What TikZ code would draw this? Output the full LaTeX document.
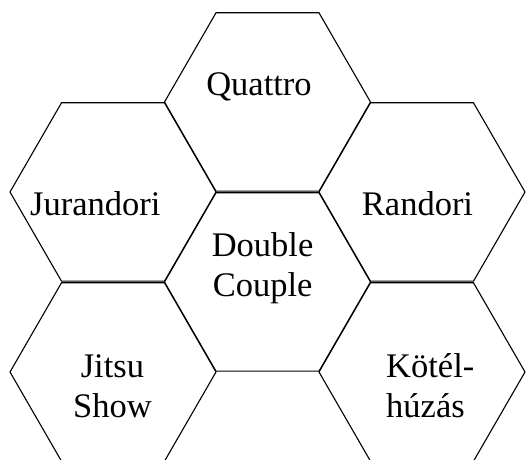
\documentclass[tikz,border=0pt]{standalone}
\usepackage{fontspec}
\setmainfont{Liberation Serif}
\usetikzlibrary{shapes.geometric}
\begin{document}
\begin{tikzpicture}[x=1pt,y=-1pt,
  hexcell/.style={draw=black, line width=1.1pt, regular polygon, regular polygon sides=6,
    minimum size=206pt, inner sep=0pt, outer sep=0pt},
  celltext/.style={font=\fontsize{34.5}{39.5}\selectfont, anchor=base, inner sep=0pt}]
\useasboundingbox (0,0) rectangle (531,462);
\begin{scope}
\clip (-5,-5) rectangle (536,459.6);
\node[hexcell] (hq) at (267.5,102) {};
\node[hexcell] (hc) at (267.5,282) {};
\node[hexcell] (hul) at (113,192) {};
\node[hexcell] (hll) at (113,372) {};
\node[hexcell] (hur) at (422,192) {};
\node[hexcell] (hlr) at (422,372) {};
\end{scope}
\node[celltext] (tq) at (259,96) {Quattro};
\node[celltext] (tul) at (95.3,215.5) {Jurandori};
\node[celltext] (tur) at (417.5,215.5) {Randori};
\node[celltext] (tc) at (262.6,257) {\begin{tabular}[t]{@{}c@{}}Double\\Couple\end{tabular}};
\node[celltext] (tll) at (112.4,377.7) {\begin{tabular}[t]{@{}c@{}}Jitsu\\Show\end{tabular}};
\node[celltext, anchor=base west] (tlr) at (386,377.7) {\begin{tabular}[t]{@{}l@{}}Kötél-\\húzás\end{tabular}};
\end{tikzpicture}
\end{document}
